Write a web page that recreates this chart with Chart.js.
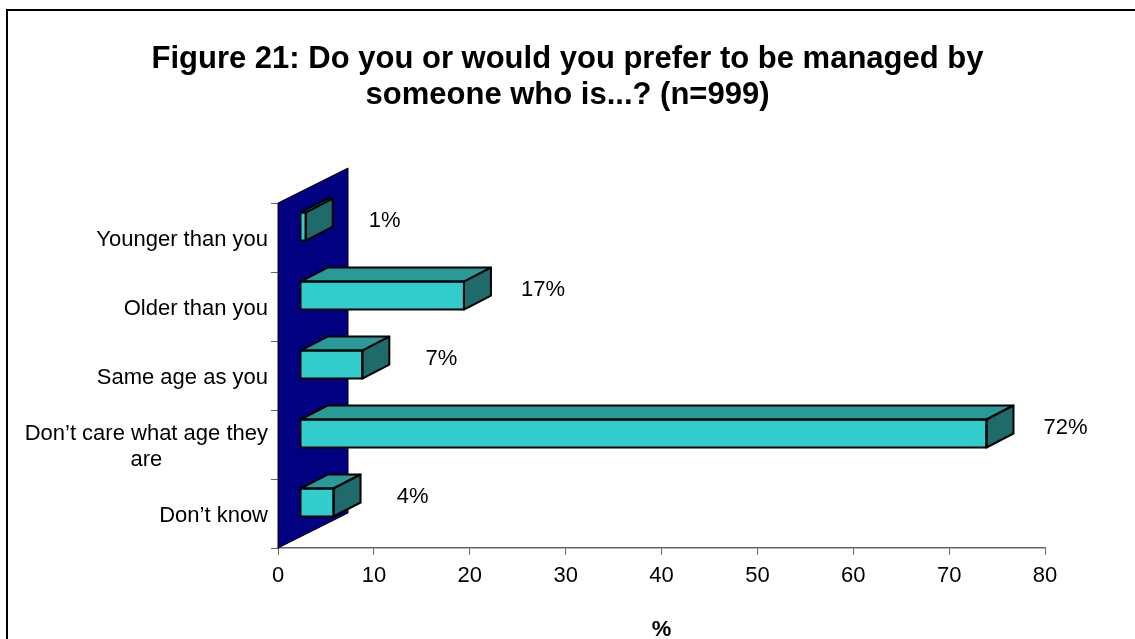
<!DOCTYPE html>
<html>
<head>
<meta charset="utf-8">
<script src="https://cdn.jsdelivr.net/npm/chart.js@4.4.0/dist/chart.umd.min.js"></script>
<style>
  html, body { margin: 0; padding: 0; background: #fff; }
  #wrap { width: 1135px; height: 639px; }
</style>
</head>
<body>
<div id="wrap"><canvas id="chart" width="1135" height="639"></canvas></div>
<script>
const categories = ['Younger than you', 'Older than you', 'Same age as you', ['Don’t care what age they', 'are'], 'Don’t know'];
const values = [0.6, 17.1, 6.5, 71.6, 3.5];
const valueLabels = ['1%', '17%', '7%', '72%', '4%'];
const xTicks = [0, 10, 20, 30, 40, 50, 60, 70, 80];
const titleLines = ['Figure 21: Do you or would you prefer to be managed by', 'someone who is...? (n=999)'];
const axisTitle = '%';

const FONT = "'Liberation Sans', Arial, sans-serif";
const WALL = { dx: 70, dy: -35 };
const BAR = { ox: 22, oy: -11, dx: 27, dy: -14 };
const FRONT = '#33CCCC', TOP = '#2A9A98', SIDE = '#1F6B6B';

function poly(ctx, pts, fill) {
    ctx.beginPath();
    ctx.moveTo(pts[0][0], pts[0][1]);
    for (let i = 1; i < pts.length; i++) ctx.lineTo(pts[i][0], pts[i][1]);
    ctx.closePath();
    if (fill) { ctx.fillStyle = fill; ctx.fill(); }
    ctx.stroke();
}

// page frame (top and left border only)
const frame = {
    id: 'frame',
    beforeDraw(chart) {
        const ctx = chart.ctx;
        ctx.save();
        ctx.fillStyle = '#fff';
        ctx.fillRect(0, 0, chart.width, chart.height);
        ctx.strokeStyle = '#000';
        ctx.lineWidth = 2;
        ctx.beginPath();
        ctx.moveTo(7, chart.height);
        ctx.lineTo(7, 10);
        ctx.lineTo(chart.width, 10);
        ctx.stroke();
        ctx.restore();
    }
};

// back wall, 3d faces, value labels and category labels
const bars3d = {
    id: 'bars3d',
    beforeDatasetsDraw(chart) {
        const { ctx, chartArea: a, scales: { x } } = chart;
        const x0 = x.getPixelForValue(0);
        ctx.save();
        ctx.strokeStyle = '#000';
        ctx.lineWidth = 1;
        poly(ctx, [[x0, a.bottom], [x0, a.top], [x0 + WALL.dx, a.top + WALL.dy], [x0 + WALL.dx, a.bottom + WALL.dy]], '#000080');
        ctx.restore();
        ctx.save();
        ctx.translate(BAR.ox, BAR.oy);
    },
    afterDatasetsDraw(chart) {
        const ctx = chart.ctx;
        const meta = chart.getDatasetMeta(0);
        ctx.lineWidth = 2;
        ctx.strokeStyle = '#000';
        ctx.lineJoin = 'round';
        meta.data.forEach((bar, i) => {
            const { x, y, base, height } = bar.getProps(['x', 'y', 'base', 'height'], true);
            const t = y - height / 2, b = y + height / 2;
            poly(ctx, [[base, t], [base + BAR.dx, t + BAR.dy], [x + BAR.dx, t + BAR.dy], [x, t]], TOP);
            poly(ctx, [[x, t], [x + BAR.dx, t + BAR.dy], [x + BAR.dx, b + BAR.dy], [x, b]], SIDE);
            poly(ctx, [[base, t], [x, t], [x, b], [base, b]], null);
            ctx.fillStyle = '#000';
            ctx.font = '22px ' + FONT;
            ctx.textAlign = 'center';
            ctx.textBaseline = 'middle';
            ctx.fillText(valueLabels[i], x + BAR.dx + 52, y - 6);
        });
        ctx.restore();
    },
    afterDraw(chart) {
        const ctx = chart.ctx;
        const ys = chart.scales.y;
        ctx.save();
        ctx.font = '22px ' + FONT;
        ctx.fillStyle = '#000';
        ctx.textBaseline = 'middle';
        ctx.textAlign = 'center';
        categories.forEach((lab, i) => {
            const lines = Array.isArray(lab) ? lab : [lab];
            const cy = ys.getPixelForValue(i) + 2;
            const w = Math.max(...lines.map(l => ctx.measureText(l).width));
            const cx = ys.right - 10 - w / 2;
            lines.forEach((l, j) => {
                ctx.fillText(l, cx, cy + (j - (lines.length - 1) / 2) * 26);
            });
        });
        ctx.restore();
    }
};

new Chart(document.getElementById('chart').getContext('2d'), {
    type: 'bar',
    data: {
        labels: categories,
        datasets: [{
            data: values,
            backgroundColor: FRONT,
            borderWidth: 0,
            barThickness: 28,
            clip: false
        }]
    },
    options: {
        indexAxis: 'y',
        responsive: false,
        animation: false,
        devicePixelRatio: 1,
        layout: { padding: 0 },
        plugins: {
            legend: { display: false },
            tooltip: { enabled: false },
            title: {
                display: true,
                text: titleLines,
                color: '#000',
                font: { family: FONT, size: 31, weight: 'bold', lineHeight: 1.17 },
                padding: { top: 41, bottom: 89.5 }
            }
        },
        scales: {
            x: {
                min: 0,
                max: 80,
                afterBuildTicks: s => { s.ticks = xTicks.map(v => ({ value: v })); },
                afterFit: s => { s.height = 91; },
                ticks: { color: '#000', font: { family: FONT, size: 22 }, padding: 8 },
                grid: { drawOnChartArea: false, tickLength: 7, color: '#666' },
                border: { color: '#666', width: 1.5 },
                title: {
                    display: true,
                    text: axisTitle,
                    color: '#000',
                    font: { family: FONT, size: 22, weight: 'bold', lineHeight: 0.8 },
                    padding: { top: 0, bottom: 0 }
                }
            },
            y: {
                afterFit: s => { s.width = 278; },
                ticks: { display: false },
                grid: { drawOnChartArea: false, tickLength: 7, color: '#666', offset: true },
                border: { color: '#000' }
            },
            yRight: {
                type: 'category',
                labels: categories,
                position: 'right',
                afterFit: s => { s.width = 90; },
                ticks: { display: false },
                grid: { display: false },
                border: { display: false }
            }
        }
    },
    plugins: [frame, bars3d]
});
</script>
</body>
</html>
